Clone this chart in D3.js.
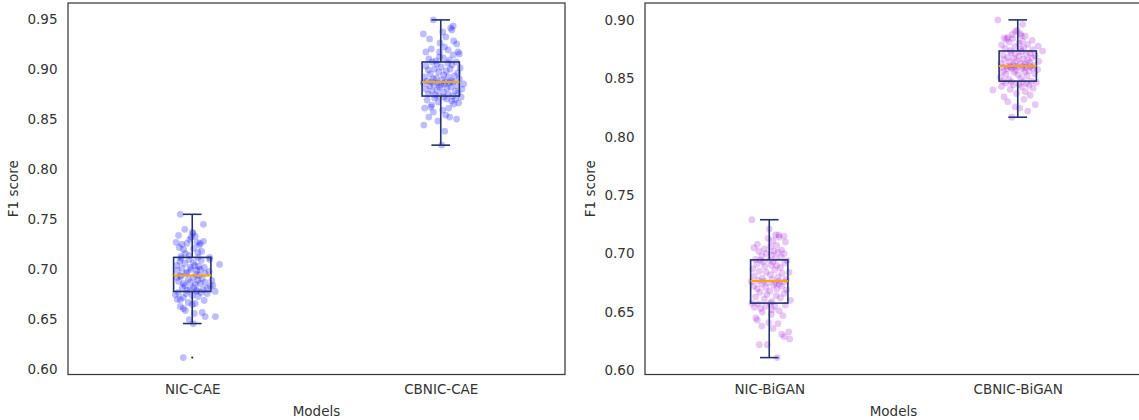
<!DOCTYPE html>
<html>
<head>
<meta charset="utf-8">
<script src="https://cdn.jsdelivr.net/npm/d3@7"></script>
<style>
  html, body { margin: 0; padding: 0; background: #ffffff; overflow: hidden; }
  svg { display: block; }
  text { font-family: "DejaVu Sans", sans-serif; }
</style>
</head>
<body>
<svg id="chart" width="1139" height="420"></svg>
<script>
// ---- F1 scores per run, one array per model ----
const categoriesCAE = ["NIC-CAE", "CBNIC-CAE"];
const categoriesBiGAN = ["NIC-BiGAN", "CBNIC-BiGAN"];

const f1NicCae = [
  0.612, 0.646, 0.650, 0.653, 0.653, 0.656, 0.657, 0.659, 0.661, 0.663, 0.665, 0.666, 0.667, 0.669, 0.670, 0.670, 0.672, 0.673, 0.674, 0.675, 0.676, 0.676, 0.677, 0.677, 0.678,
  0.678, 0.679, 0.679, 0.680, 0.680, 0.681, 0.682, 0.682, 0.683, 0.684, 0.684, 0.685, 0.686, 0.686, 0.687, 0.687, 0.688, 0.689, 0.689, 0.690, 0.691, 0.692, 0.692, 0.693, 0.694,
  0.694, 0.695, 0.696, 0.696, 0.697, 0.698, 0.699, 0.699, 0.700, 0.700, 0.701, 0.702, 0.702, 0.703, 0.704, 0.704, 0.705, 0.706, 0.707, 0.708, 0.709, 0.710, 0.710, 0.711, 0.712,
  0.712, 0.713, 0.714, 0.716, 0.717, 0.718, 0.720, 0.721, 0.722, 0.724, 0.725, 0.726, 0.726, 0.727, 0.727, 0.728, 0.730, 0.732, 0.733, 0.734, 0.736, 0.737, 0.740, 0.745, 0.755
];
const f1CbnicCae = [
  0.824, 0.838, 0.844, 0.848, 0.850, 0.852, 0.852, 0.854, 0.857, 0.859, 0.861, 0.861, 0.862, 0.864, 0.865, 0.866, 0.867, 0.868, 0.869, 0.870, 0.870, 0.871, 0.872, 0.872, 0.873,
  0.873, 0.874, 0.875, 0.875, 0.876, 0.877, 0.878, 0.878, 0.879, 0.880, 0.880, 0.881, 0.882, 0.882, 0.883, 0.883, 0.884, 0.884, 0.885, 0.885, 0.886, 0.886, 0.886, 0.887, 0.887,
  0.887, 0.888, 0.888, 0.889, 0.890, 0.890, 0.891, 0.892, 0.892, 0.893, 0.894, 0.895, 0.896, 0.897, 0.898, 0.899, 0.900, 0.900, 0.901, 0.902, 0.903, 0.904, 0.905, 0.906, 0.907,
  0.907, 0.908, 0.909, 0.910, 0.911, 0.912, 0.914, 0.915, 0.917, 0.917, 0.917, 0.919, 0.920, 0.922, 0.925, 0.926, 0.928, 0.930, 0.932, 0.935, 0.937, 0.939, 0.941, 0.943, 0.949
];
const f1NicBigan = [
  0.611, 0.622, 0.622, 0.627, 0.629, 0.631, 0.633, 0.636, 0.638, 0.640, 0.641, 0.643, 0.645, 0.647, 0.648, 0.650, 0.651, 0.652, 0.653, 0.654, 0.655, 0.655, 0.656, 0.657, 0.6574,
  0.6577, 0.659, 0.660, 0.661, 0.662, 0.663, 0.664, 0.665, 0.666, 0.667, 0.668, 0.669, 0.670, 0.670, 0.671, 0.672, 0.672, 0.673, 0.674, 0.674, 0.675, 0.675, 0.676, 0.676, 0.6765,
  0.6765, 0.677, 0.678, 0.678, 0.679, 0.680, 0.681, 0.682, 0.683, 0.684, 0.684, 0.685, 0.686, 0.687, 0.688, 0.689, 0.690, 0.690, 0.691, 0.692, 0.693, 0.693, 0.694, 0.6944, 0.6945,
  0.695, 0.696, 0.697, 0.698, 0.699, 0.700, 0.700, 0.701, 0.702, 0.702, 0.703, 0.704, 0.705, 0.706, 0.707, 0.708, 0.710, 0.711, 0.713, 0.714, 0.715, 0.716, 0.716, 0.721, 0.729
];
const f1CbnicBigan = [
  0.8167, 0.8220, 0.8245, 0.8255, 0.8275, 0.8300, 0.8320, 0.8340, 0.8355, 0.8370, 0.8385, 0.8400, 0.8405, 0.8415, 0.8425, 0.8430, 0.8440, 0.8445, 0.8450, 0.8455, 0.8460, 0.8465, 0.8470, 0.8472, 0.8475,
  0.8476, 0.8490, 0.8500, 0.8510, 0.8520, 0.8530, 0.8535, 0.8540, 0.8550, 0.8555, 0.8560, 0.8565, 0.8570, 0.8575, 0.8580, 0.8585, 0.8588, 0.8590, 0.8593, 0.8595, 0.8598, 0.8600, 0.8602, 0.8604, 0.8605,
  0.8605, 0.8610, 0.8615, 0.8620, 0.8625, 0.8630, 0.8635, 0.8640, 0.8645, 0.8650, 0.8655, 0.8660, 0.8665, 0.8670, 0.8675, 0.8680, 0.8690, 0.8695, 0.8700, 0.8705, 0.8710, 0.8715, 0.8720, 0.8728, 0.8733,
  0.8737, 0.8745, 0.8750, 0.8755, 0.8760, 0.8770, 0.8775, 0.8785, 0.8790, 0.8800, 0.8810, 0.8815, 0.8825, 0.8835, 0.8840, 0.8845, 0.8850, 0.8860, 0.8865, 0.8875, 0.8880, 0.8900, 0.8910, 0.8962, 0.9000
];

// horizontal scatter offset of each run around its category (x units)
const jitterNicCae = [
  -0.036, 0.004, -0.012, 0.052, 0.093, 0.008, 0.040, -0.028, -0.036, -0.048, 0.000, 0.012, -0.016, 0.048, -0.060, -0.048, -0.036, 0.024, 0.000, -0.068, 0.060, -0.024, 0.036, -0.056, 0.016,
  0.092, 0.019, -0.021, -0.008, 0.044, 0.060, 0.005, -0.040, 0.072, 0.083, -0.030, 0.012, -0.035, 0.032, -0.008, 0.052, -0.055, 0.079, 0.022, -0.016, 0.040, 0.005, -0.062, -0.045, 0.028,
  -0.048, 0.015, 0.052, -0.025, -0.021, 0.068, 0.019, -0.060, 0.032, -0.005, -0.041, -0.008, 0.048, 0.025, -0.062, 0.010, 0.110, -0.030, 0.005, -0.050, 0.036, -0.013, 0.070, -0.045, 0.024,
  0.070, -0.045, -0.012, -0.028, 0.023, 0.038, -0.035, 0.005, -0.052, 0.028, -0.041, -0.021, 0.032, -0.065, 0.019, 0.045, -0.010, -0.004, 0.012, -0.055, 0.003, 0.001, -0.030, 0.045, -0.048
];
const jitterCbnicCae = [
  0.004, 0.016, -0.068, -0.012, 0.064, -0.048, 0.036, 0.020, -0.030, 0.008, -0.065, 0.032, -0.040, -0.036, 0.052, 0.072, -0.010, 0.044, -0.055, 0.024, 0.060, -0.025, 0.012, 0.082, -0.008,
  0.048, -0.022, 0.030, -0.050, 0.070, 0.010, -0.035, 0.058, -0.015, 0.085, -0.060, 0.025, -0.005, 0.040, -0.045, 0.065, 0.000, -0.028, 0.015, 0.092, -0.070, 0.035, -0.012, 0.050, -0.038,
  0.018, -0.055, 0.042, 0.005, -0.030, 0.075, -0.018, 0.030, -0.066, 0.055, 0.012, -0.042, 0.068, -0.008, 0.022, -0.050, 0.038, -0.025, 0.078, 0.002, -0.060, 0.045, -0.015, 0.028, -0.035,
  0.062, -0.020, 0.035, -0.048, 0.010, -0.005, 0.050, 0.075, -0.060, -0.005, 0.070, 0.030, -0.038, 0.015, 0.064, -0.003, 0.052, -0.045, 0.020, -0.070, 0.008, 0.045, 0.040, 0.050, -0.030
];
const jitterNicBigan = [
  0.032, -0.040, -0.008, 0.082, 0.060, 0.050, 0.078, 0.015, -0.030, 0.035, -0.002, -0.048, -0.054, 0.055, 0.008, -0.028, 0.040, 0.012, -0.034, -0.060, 0.022, -0.015, 0.065, -0.045, 0.005,
  -0.070, 0.010, 0.085, -0.020, 0.045, -0.055, 0.028, -0.010, 0.060, -0.038, 0.002, 0.070, -0.048, 0.030, -0.015, 0.050, -0.062, 0.018, -0.030, 0.040, -0.005, 0.025, -0.072, 0.062, -0.022,
  0.040, -0.045, 0.012, 0.068, -0.028, 0.035, -0.060, 0.005, 0.052, -0.012, 0.080, -0.040, 0.022, -0.066, 0.045, -0.018, 0.030, 0.008, -0.050, 0.062, -0.025, 0.015, 0.072, -0.035, 0.000,
  -0.055, 0.025, 0.048, -0.030, 0.010, 0.060, -0.012, 0.035, -0.042, 0.018, 0.050, -0.020, -0.062, 0.005, 0.030, -0.048, 0.065, 0.015, -0.005, 0.040, 0.060, 0.025, 0.038, 0.000, -0.070
];
const jitterCbnicBigan = [
  -0.024, 0.040, 0.008, -0.010, 0.070, -0.040, 0.025, -0.055, 0.050, -0.005, 0.030, -0.100, -0.030, 0.062, 0.015, -0.065, 0.045, -0.018, 0.005, 0.035, -0.048, 0.075, -0.025, 0.020, -0.060,
  0.055, -0.035, 0.012, -0.070, 0.038, 0.002, -0.048, 0.068, -0.015, 0.028, -0.058, 0.045, -0.008, 0.080, -0.040, 0.018, -0.025, 0.060, -0.062, 0.032, 0.000, -0.030, 0.050, -0.012, 0.022,
  -0.045, 0.065, -0.020, 0.030, -0.068, 0.010, 0.048, -0.032, 0.085, -0.005, 0.040, -0.055, 0.022, -0.015, 0.058, -0.040, 0.005, 0.070, -0.060, 0.035, -0.010, 0.050, -0.028, 0.015, 0.100,
  -0.030, 0.060, 0.012, -0.050, 0.025, -0.012, 0.082, -0.065, 0.040, 0.005, -0.035, 0.018, 0.058, -0.045, -0.020, -0.055, -0.040, 0.030, 0.015, -0.022, 0.010, -0.010, -0.002, 0.020, -0.080
];

const yTicksCAE = [0.60, 0.65, 0.70, 0.75, 0.80, 0.85, 0.90, 0.95];
const yTicksBiGAN = [0.60, 0.65, 0.70, 0.75, 0.80, 0.85, 0.90];

const xLabel = "Models";
const yLabel = "F1 score";

// ---- panel layout ----
const panels = [
  { left: 68, right: 565, top: 3, bottom: 374.5, categories: categoriesCAE,
    series: [f1NicCae, f1CbnicCae], jitter: [jitterNicCae, jitterCbnicCae],
    ticks: yTicksCAE, pointColor: "rgba(0, 0, 255, 0.26)", yLabelX: 18 },
  { left: 645, right: 1142, top: 3, bottom: 374.5, categories: categoriesBiGAN,
    series: [f1NicBigan, f1CbnicBigan], jitter: [jitterNicBigan, jitterCbnicBigan],
    ticks: yTicksBiGAN, pointColor: "rgba(148, 0, 211, 0.22)", yLabelX: 595 }
];

const TEXT = "#333333";
const BOX = "#24336f";
const MEDIAN = "#ffa500";
const FONT_SIZE = 13.5;
const svg = d3.select("#chart");

function boxStats(values) {
  const s = values.slice().sort(d3.ascending);
  const q1 = d3.quantile(s, 0.25), med = d3.quantile(s, 0.5), q3 = d3.quantile(s, 0.75);
  const iqr = q3 - q1;
  const lo = d3.min(s.filter(v => v >= q1 - 1.5 * iqr));
  const hi = d3.max(s.filter(v => v <= q3 + 1.5 * iqr));
  const fliers = s.filter(v => v < lo || v > hi);
  return { q1, med, q3, lo, hi, fliers };
}

panels.forEach(p => {
  const all = p.series.flat();
  const [mn, mx] = d3.extent(all);
  const pad = (mx - mn) * 0.05;
  const y = d3.scaleLinear().domain([mn - pad, mx + pad]).range([p.bottom, p.top]);
  const x = d3.scaleLinear().domain([0.5, 2.5]).range([p.left, p.right]);
  const g = svg.append("g");

  // y axis tick labels (no tick marks)
  const yAxis = g.append("g")
    .attr("transform", `translate(${p.left},0)`)
    .call(d3.axisLeft(y).tickValues(p.ticks).tickFormat(d3.format(".2f")).tickSize(0).tickPadding(10.5));
  yAxis.select(".domain").remove();
  yAxis.selectAll("text").attr("font-size", FONT_SIZE).attr("fill", TEXT).attr("font-family", "DejaVu Sans");

  // x axis category labels
  const xAxis = g.append("g")
    .attr("transform", `translate(0,${p.bottom})`)
    .call(d3.axisBottom(x).tickValues([1, 2]).tickFormat((d, i) => p.categories[i]).tickSize(0).tickPadding(10));
  xAxis.select(".domain").remove();
  xAxis.selectAll("text").attr("font-size", FONT_SIZE).attr("fill", TEXT).attr("font-family", "DejaVu Sans");

  // axis titles
  g.append("text")
    .attr("x", (p.left + Math.min(p.right, p.left + 497)) / 2)
    .attr("y", 416)
    .attr("text-anchor", "middle")
    .attr("font-size", FONT_SIZE).attr("fill", TEXT)
    .text(xLabel);
  g.append("text")
    .attr("transform", `translate(${p.yLabelX},${(p.top + p.bottom) / 2}) rotate(-90)`)
    .attr("text-anchor", "middle")
    .attr("font-size", FONT_SIZE).attr("fill", TEXT)
    .text(yLabel);

  // individual runs
  p.series.forEach((vals, i) => {
    g.append("g").selectAll("circle")
      .data(vals.map((v, k) => ({ v, dx: p.jitter[i][k] })))
      .join("circle")
      .attr("cx", d => x(i + 1 + d.dx))
      .attr("cy", d => y(d.v))
      .attr("r", 3.4)
      .attr("fill", p.pointColor);
  });

  // box plots
  const halfW = 0.075, capW = 0.0375;
  p.series.forEach((vals, i) => {
    const st = boxStats(vals);
    const c = i + 1;
    const bg = g.append("g").attr("stroke", BOX).attr("stroke-width", 1.6).attr("fill", "none");
    bg.append("line").attr("x1", x(c)).attr("x2", x(c)).attr("y1", y(st.q3)).attr("y2", y(st.hi));
    bg.append("line").attr("x1", x(c)).attr("x2", x(c)).attr("y1", y(st.q1)).attr("y2", y(st.lo));
    bg.append("line").attr("x1", x(c - capW)).attr("x2", x(c + capW)).attr("y1", y(st.hi)).attr("y2", y(st.hi));
    bg.append("line").attr("x1", x(c - capW)).attr("x2", x(c + capW)).attr("y1", y(st.lo)).attr("y2", y(st.lo));
    bg.append("rect")
      .attr("x", x(c - halfW)).attr("width", x(c + halfW) - x(c - halfW))
      .attr("y", y(st.q3)).attr("height", y(st.q1) - y(st.q3));
    g.append("line")
      .attr("x1", x(c - halfW)).attr("x2", x(c + halfW))
      .attr("y1", y(st.med)).attr("y2", y(st.med))
      .attr("stroke", MEDIAN).attr("stroke-width", 2);
    g.append("g").selectAll("circle").data(st.fliers).join("circle")
      .attr("cx", x(c)).attr("cy", d => y(d)).attr("r", 1.1).attr("fill", "#333");
  });

  // frame
  g.append("rect")
    .attr("x", p.left).attr("y", p.top)
    .attr("width", p.right - p.left).attr("height", p.bottom - p.top)
    .attr("fill", "none").attr("stroke", "#3a3a3a").attr("stroke-width", 1.25);
});
</script>
</body>
</html>
